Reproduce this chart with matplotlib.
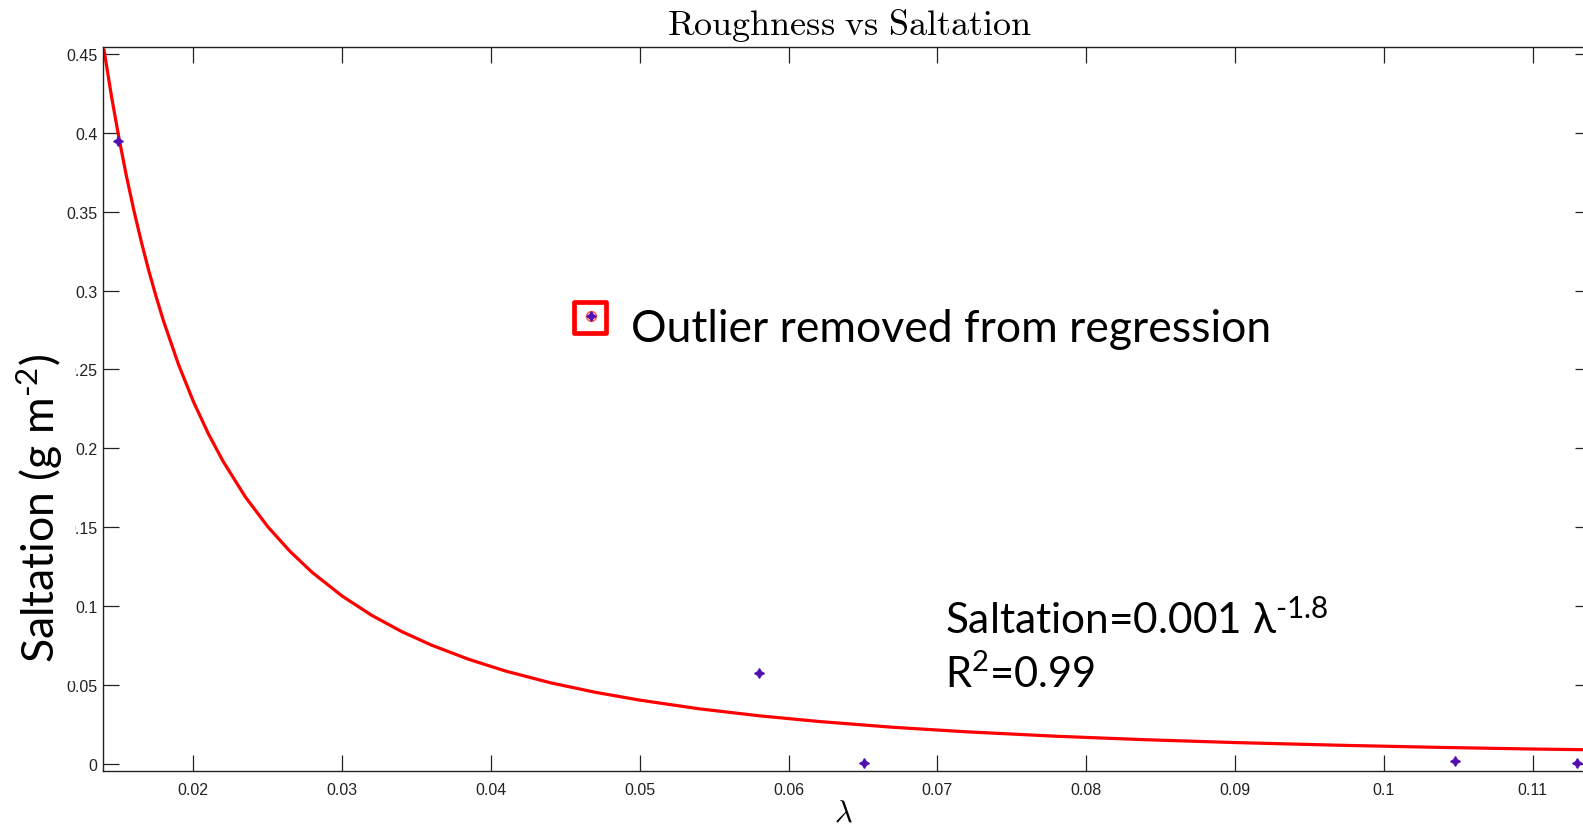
import numpy as np
import matplotlib
matplotlib.use("Agg")
import matplotlib.pyplot as plt
from matplotlib.patches import Rectangle

plt.rcParams['mathtext.fontset'] = 'custom'
plt.rcParams['mathtext.rm'] = 'Lato'
plt.rcParams['mathtext.it'] = 'Lato:italic'

# fitted power law curve
curve_x = [0.0140, 0.0145, 0.0150, 0.0155, 0.0160, 0.0165, 0.0170, 0.0175, 0.0180,
           0.0190, 0.0200, 0.0210, 0.0220, 0.0235, 0.0250, 0.0265, 0.0280, 0.0300,
           0.0320, 0.0340, 0.0360, 0.0385, 0.0410, 0.0440, 0.0470, 0.0500, 0.0540,
           0.0580, 0.0620, 0.0670, 0.0720, 0.0780, 0.0840, 0.0900, 0.0970, 0.1040,
           0.1100, 0.1140]
curve_y = [0.4524, 0.4232, 0.3968, 0.3728, 0.3510, 0.3311, 0.3128, 0.2961, 0.2806,
           0.2532, 0.2297, 0.2094, 0.1917, 0.1691, 0.1503, 0.1346, 0.1212, 0.1063,
           0.0940, 0.0838, 0.0752, 0.0662, 0.0587, 0.0513, 0.0453, 0.0403, 0.0348,
           0.0304, 0.0268, 0.0231, 0.0202, 0.0174, 0.0152, 0.0134, 0.0117, 0.0103,
           0.0093, 0.0088]

# measured points
pts_x = [0.01496, 0.05802, 0.06508, 0.1048, 0.1130]
pts_y = [0.3950, 0.0575, 0.0006, 0.0017, 0.0005]
outlier_x = [0.04675]
outlier_y = [0.2838]

xticks = [0.02, 0.03, 0.04, 0.05, 0.06, 0.07, 0.08, 0.09, 0.1, 0.11]
xticklabels = ["0.02", "0.03", "0.04", "0.05", "0.06", "0.07", "0.08", "0.09", "0.1", "0.11"]
yticks = [0, 0.05, 0.1, 0.15, 0.2, 0.25, 0.3, 0.35, 0.4, 0.45]
yticklabels = ["0", "0.05", "0.1", "0.15", "0.2", "0.25", "0.3", "0.35", "0.4", "0.45"]

W, H = 1583, 829
fig = plt.figure(figsize=(W / 100, H / 100), dpi=100)

def fx(px):
    return px / W

def fy(py):
    return 1 - py / H

ax = fig.add_axes([fx(103), fy(772), fx(1591) - fx(103), fy(48) - fy(772)])
ax.plot(curve_x, curve_y, color='red', lw=2.3, zorder=2)
ax.plot(outlier_x, outlier_y, 'o', ms=7, mfc='none', mec='#ff6060', mew=1.2, zorder=3)
ax.plot(pts_x + outlier_x, pts_y + outlier_y, ls='none', marker=(4, 1, 0), ms=7,
        color='#5210b0', zorder=4)

ax.set_xlim(0.01393, 0.11393)
ax.set_ylim(-0.00463, 0.4544)
ax.set_xticks(xticks)
ax.set_xticklabels(xticklabels)
ax.set_yticks(yticks)
ax.set_yticklabels(yticklabels)
ax.tick_params(direction='in', length=11.5, width=0.9, top=True, right=True,
               labelsize=11.5, labelcolor='#222222', colors='#222222')
ax.tick_params(axis='x', pad=8)
ax.tick_params(axis='y', pad=4)
for lab in ax.get_xticklabels() + ax.get_yticklabels():
    lab.set_fontfamily('Liberation Sans')
for s in ax.spines.values():
    s.set_linewidth(1.0)
    s.set_color('#222222')

# title and x label in LaTeX style
fig.text(fx(850), fy(35), r'$\mathrm{Roughness\ vs\ Saltation}$', ha='center',
         va='baseline', fontsize=26, math_fontfamily='cm')
fig.text(fx(843), fy(813), r'$\lambda$', ha='center', va='center', fontsize=22,
         math_fontfamily='cm')

# y label sits on a white text box that hides part of the tick labels
fig.add_artist(Rectangle((0, fy(682)), fx(75), fy(345) - fy(682),
                         transform=fig.transFigure, facecolor='white',
                         edgecolor='none', zorder=1))
fig.text(fx(40), fy(509), 'Saltation (g m$^{\u20102}$)', rotation=90,
         ha='center', va='center', fontsize=32, family=['Lato', 'DejaVu Sans'],
         zorder=3)

# outlier box and annotation
fig.add_artist(Rectangle((fx(574), fy(334)), fx(606) - fx(574), fy(303) - fy(334),
                         transform=fig.transFigure, fill=False, edgecolor='red',
                         lw=3.4, joinstyle='round'))
fig.text(fx(631), fy(342), 'Outlier removed from regression', ha='left', va='baseline',
         fontsize=32, family=['Lato', 'DejaVu Sans'])

fig.text(fx(945), fy(634), 'Saltation=0.001 λ$^{\u20101.8}$', ha='left', va='baseline',
         fontsize=30.5, family=['Lato', 'DejaVu Sans'])
fig.text(fx(945), fy(688), 'R$^{2}$=0.99', ha='left', va='baseline',
         fontsize=30, family=['Lato', 'DejaVu Sans'])

fig.savefig('out.png', dpi=100)
